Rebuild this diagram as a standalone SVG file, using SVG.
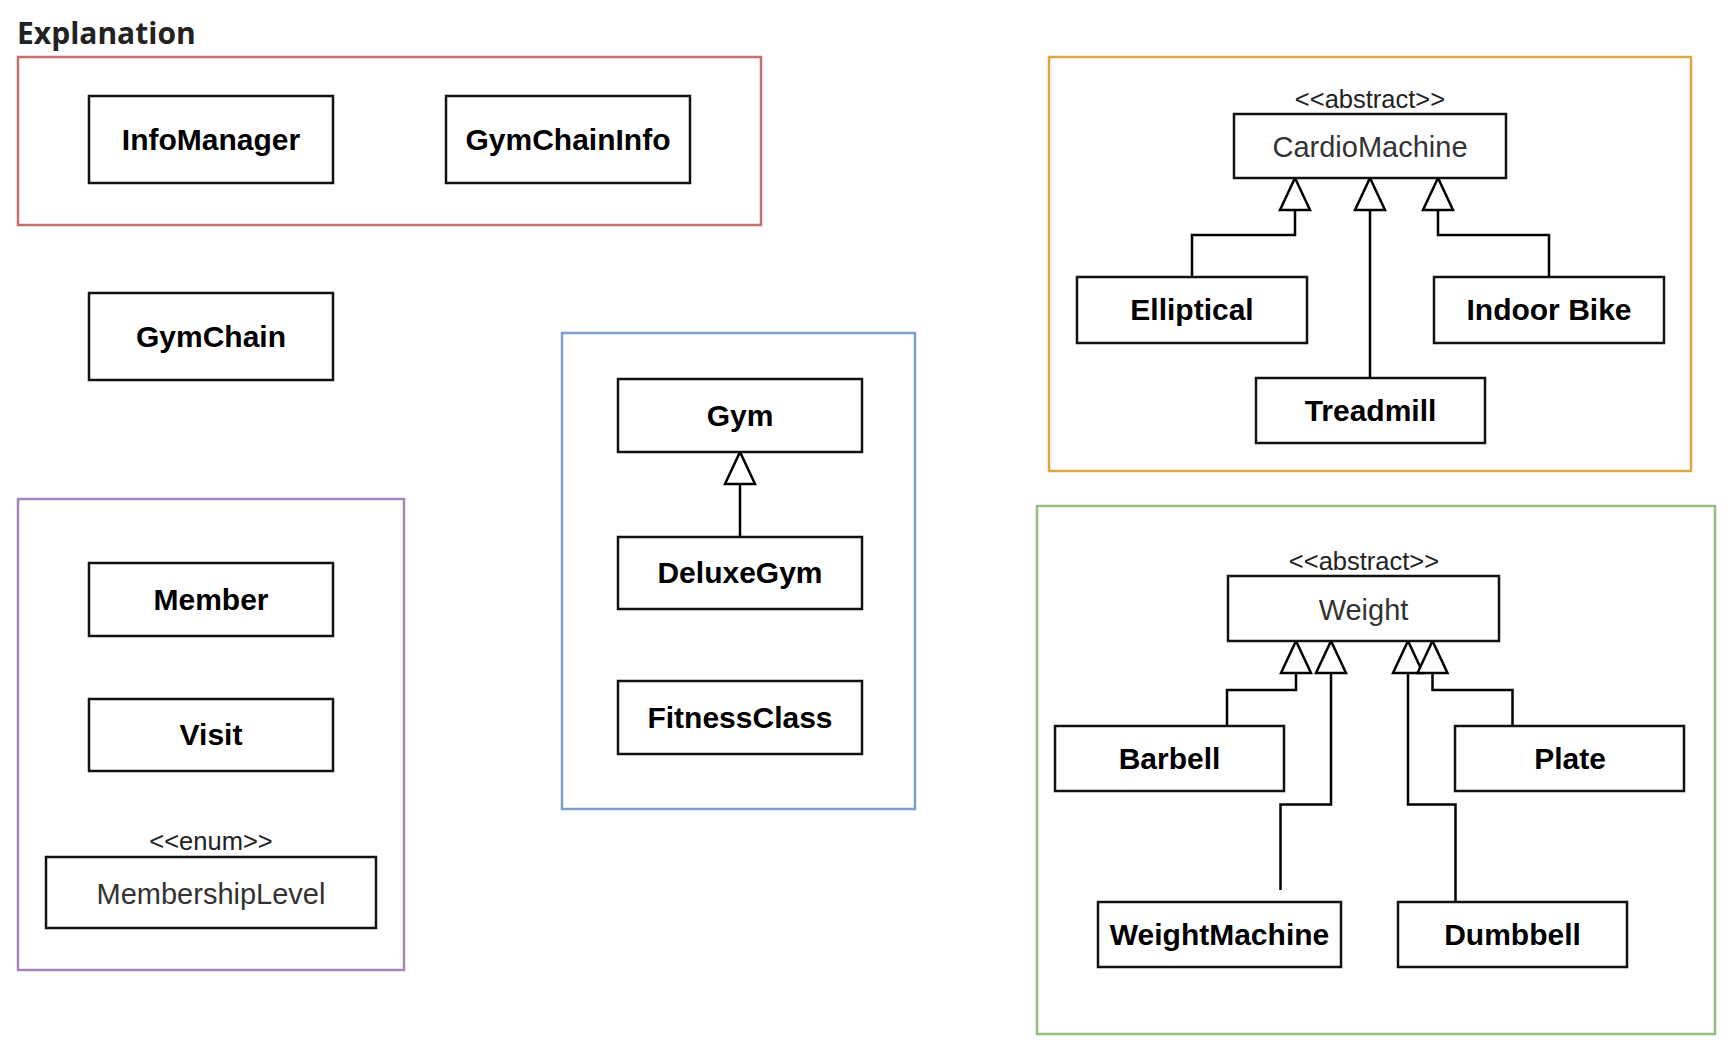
<svg xmlns="http://www.w3.org/2000/svg" width="1736" height="1050" viewBox="0 0 1736 1050">
<style>
.bg{fill:#ffffff}
.grp{fill:none;stroke-width:2.5}
.cls rect{fill:#ffffff;stroke:#111111;stroke-width:2.5}
.b{font-family:"Liberation Sans",Arial,sans-serif;font-weight:bold;font-size:30px;fill:#000000;text-anchor:middle}
.r{font-family:"Liberation Sans",Arial,sans-serif;font-size:29px;fill:#333333;text-anchor:middle}
.st{font-family:"Liberation Sans",Arial,sans-serif;font-size:25.5px;fill:#222222;text-anchor:middle}
.title{font-family:"Open Sans",sans-serif;font-weight:700;font-size:30px;fill:#222222}
.conn path{fill:none;stroke:#000000;stroke-width:2.5;marker-end:url(#tri)}
</style>
<defs>
<marker id="tri" viewBox="0 0 32 30" refX="32" refY="15" markerWidth="32" markerHeight="30" markerUnits="userSpaceOnUse" orient="auto" overflow="visible">
<path d="M0,0 L32,15 L0,30 Z" fill="#ffffff" stroke="#000000" stroke-width="2.5" stroke-linejoin="miter"/>
</marker>
</defs>
<rect class="bg" x="0" y="0" width="1736" height="1050"/>
<text class="title" x="17" y="44">Explanation</text>

<g id="groups">
<rect id="grp-red" class="grp" x="18" y="57" width="743" height="168" stroke="#c4706c"/>
<rect id="grp-purple" class="grp" x="18" y="499" width="386" height="471" stroke="#a688b8"/>
<rect id="grp-blue" class="grp" x="562" y="333" width="353" height="476" stroke="#7d9dcc"/>
<rect id="grp-orange" class="grp" x="1049" y="57" width="642" height="414" stroke="#dca640"/>
<rect id="grp-green" class="grp" x="1037" y="506" width="678" height="528" stroke="#93c07c"/>
</g>

<g id="connectors" class="conn">
<path d="M740,537 V452"/>
<path d="M1192,277 V235 H1295 V178"/>
<path d="M1370,378 V178"/>
<path d="M1549,277 V235 H1438 V178"/>
<path d="M1227,726 V690 H1296 V641"/>
<path d="M1280.5,890 V804.5 H1331 V641"/>
<path d="M1455.5,902 V804.5 H1408 V641"/>
<path d="M1512.5,726 V690 H1432.5 V641"/>
</g>

<g id="InfoManager" class="cls"><rect x="89" y="96" width="244" height="87"/><text class="b" x="211" y="150">InfoManager</text></g>
<g id="GymChainInfo" class="cls"><rect x="446" y="96" width="244" height="87"/><text class="b" x="568" y="150">GymChainInfo</text></g>
<g id="GymChain" class="cls"><rect x="89" y="293" width="244" height="87"/><text class="b" x="211" y="347">GymChain</text></g>
<g id="Gym" class="cls"><rect x="618" y="379" width="244" height="73"/><text class="b" x="740" y="426">Gym</text></g>
<g id="DeluxeGym" class="cls"><rect x="618" y="537" width="244" height="72"/><text class="b" x="740" y="583">DeluxeGym</text></g>
<g id="FitnessClass" class="cls"><rect x="618" y="681" width="244" height="73"/><text class="b" x="740" y="728">FitnessClass</text></g>
<g id="Member" class="cls"><rect x="89" y="563" width="244" height="73"/><text class="b" x="211" y="610">Member</text></g>
<g id="Visit" class="cls"><rect x="89" y="699" width="244" height="72"/><text class="b" x="211" y="745">Visit</text></g>
<g id="MembershipLevel" class="cls"><text class="st" x="211" y="850">&lt;&lt;enum&gt;&gt;</text><rect x="46" y="857" width="330" height="71"/><text class="r" x="211" y="904">MembershipLevel</text></g>
<g id="CardioMachine" class="cls"><text class="st" x="1370" y="108">&lt;&lt;abstract&gt;&gt;</text><rect x="1234" y="114" width="272" height="64"/><text class="r" x="1370" y="157">CardioMachine</text></g>
<g id="Elliptical" class="cls"><rect x="1077" y="277" width="230" height="66"/><text class="b" x="1192" y="320">Elliptical</text></g>
<g id="IndoorBike" class="cls"><rect x="1434" y="277" width="230" height="66"/><text class="b" x="1549" y="320">Indoor Bike</text></g>
<g id="Treadmill" class="cls"><rect x="1256" y="378" width="229" height="65"/><text class="b" x="1370.5" y="421">Treadmill</text></g>
<g id="Weight" class="cls"><text class="st" x="1364" y="570">&lt;&lt;abstract&gt;&gt;</text><rect x="1228" y="576" width="271" height="65"/><text class="r" x="1363.5" y="620">Weight</text></g>
<g id="Barbell" class="cls"><rect x="1055" y="726" width="229" height="65"/><text class="b" x="1169.5" y="769">Barbell</text></g>
<g id="Plate" class="cls"><rect x="1455" y="726" width="229" height="65"/><text class="b" x="1570" y="769">Plate</text></g>
<g id="WeightMachine" class="cls"><rect x="1098" y="902" width="243" height="65"/><text class="b" x="1219.5" y="945">WeightMachine</text></g>
<g id="Dumbbell" class="cls"><rect x="1398" y="902" width="229" height="65"/><text class="b" x="1512.5" y="945">Dumbbell</text></g>
</svg>
